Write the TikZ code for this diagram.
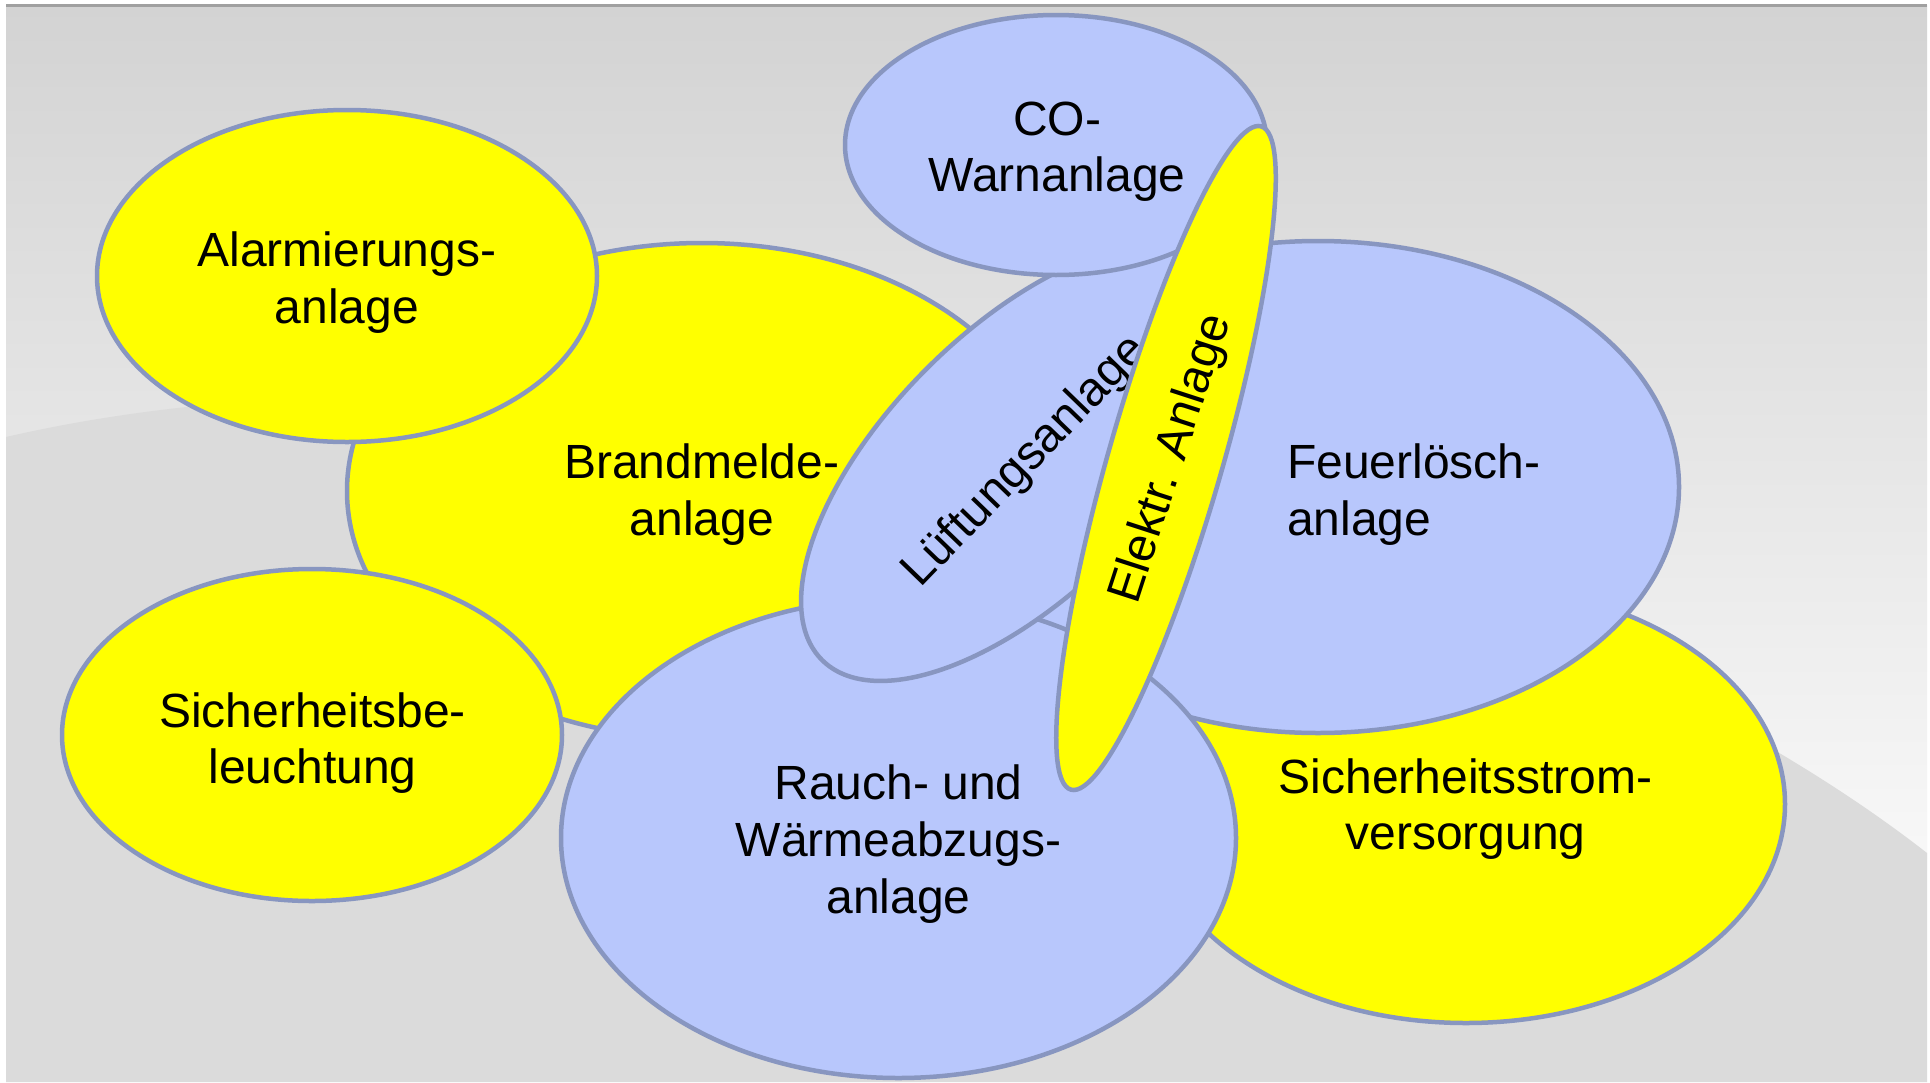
\documentclass[tikz,border=0pt]{standalone}
\usepackage{fontspec}
\setmainfont{Liberation Sans}
\usetikzlibrary{shapes.geometric}
\definecolor{yelfill}{RGB}{255,255,0}
\definecolor{bluefill}{HTML}{B8C7FC}
\definecolor{edgecol}{HTML}{8896C0}
\definecolor{bgtop}{HTML}{D3D3D3}
\definecolor{bglight}{HTML}{F8F8F8}
\definecolor{bglow}{HTML}{DBDBDB}
\definecolor{toplinecol}{HTML}{A0A0A0}
\newcommand\lstrut{\rule[-11pt]{0pt}{47pt}}
\begin{document}
\begin{tikzpicture}[x=1pt,y=-1pt,
  blob/.style={ellipse, draw=edgecol, line width=4.5pt, inner sep=0pt, outer sep=0pt},
  yel/.style={blob, fill=yelfill},
  blu/.style={blob, fill=bluefill},
  lbl/.style={font=\fontsize{48}{56.6}\selectfont, align=center, inner sep=0pt, anchor=north, text=black},
  rlbl/.style={font=\fontsize{48}{56.6}\selectfont, inner sep=0pt, anchor=center, text=black},
]
\useasboundingbox (0,0) rectangle (1930,1082);
\fill[white] (0,0) rectangle (1930,1082);
\shade[top color=bgtop, bottom color=bglight] (6,5) rectangle (1927,870);
\fill[bglow] (6,437) .. controls (600,300) and (1500,520) .. (1927,853) -- (1927,1082) -- (6,1082) -- cycle;
\fill[toplinecol] (6,4) rectangle (1927,7);

\node[yel, minimum width=710pt, minimum height=496pt] (brand) at (702,491) {};
\node[lbl] (brandt) at (701.7,442.3) {\lstrut Brandmelde-\\\lstrut anlage};

\node[yel, minimum width=500pt, minimum height=332pt] (alarm) at (347,276) {};
\node[lbl] (alarmt) at (347,230.6) {\lstrut Alarmierungs-\\\lstrut anlage};

\node[yel, minimum width=500pt, minimum height=332pt] (bel) at (312,735) {};
\node[lbl] (belt) at (312.6,691) {\lstrut Sicherheitsbe-\\\lstrut leuchtung};

\node[yel, minimum width=638pt, minimum height=438pt] (strom) at (1466,804) {};
\node[lbl] (stromt) at (1465.6,757) {\lstrut Sicherheitsstrom-\\\lstrut versorgung};

\node[blu, minimum width=722pt, minimum height=492pt] (feuer) at (1318,487) {};
\node[lbl, anchor=north west, align=left] (feuert) at (1287,442.3) {\lstrut Feuerlösch-\\\lstrut anlage};

\node[blu, minimum width=675pt, minimum height=480pt] (rauch) at (898.5,838) {};
\node[lbl] (raucht) at (898.6,763.6) {\lstrut Rauch- und\\\lstrut Wärmeabzugs-\\\lstrut anlage};

\node[blu, minimum width=560pt, minimum height=264pt, rotate=45] (lueft) at (1020,462) {};
\node[rlbl, rotate=46] (luefttx) at (1026,462) {Lüftungsanlage};

\node[blu, minimum width=422pt, minimum height=260pt] (co) at (1056,145) {};
\node[lbl] (cot) at (1057,99) {\lstrut CO-\\\lstrut Warnanlage};

\node[yel, minimum width=690pt, minimum height=114pt, rotate=74] (elektr) at (1166,458) {};
\node[rlbl, rotate=72] (elektrt) at (1172,459) {Elektr. Anlage};
\end{tikzpicture}
\end{document}
